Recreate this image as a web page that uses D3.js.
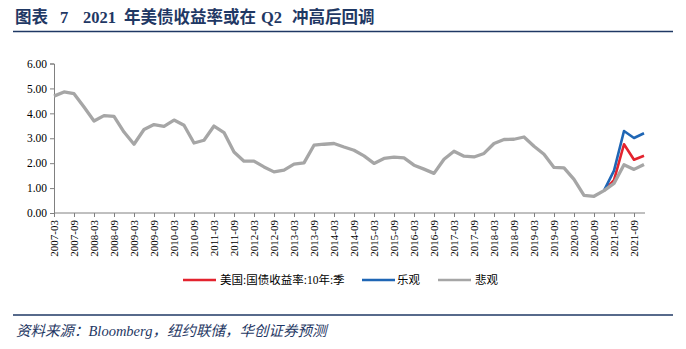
<!DOCTYPE html>
<html>
<head>
<meta charset="utf-8">
<script src="https://cdn.jsdelivr.net/npm/d3@7/dist/d3.min.js"></script>
<style>
  html, body { margin: 0; padding: 0; background: #fff; }
  svg { display: block; }
</style>
</head>
<body>
<svg id="chart" width="686" height="349"></svg>
<script>
// Quarter-end categories, 2007Q1 – 2021Q4
const quarters = [
  "2007-03","2007-06","2007-09","2007-12","2008-03","2008-06","2008-09","2008-12",
  "2009-03","2009-06","2009-09","2009-12","2010-03","2010-06","2010-09","2010-12",
  "2011-03","2011-06","2011-09","2011-12","2012-03","2012-06","2012-09","2012-12",
  "2013-03","2013-06","2013-09","2013-12","2014-03","2014-06","2014-09","2014-12",
  "2015-03","2015-06","2015-09","2015-12","2016-03","2016-06","2016-09","2016-12",
  "2017-03","2017-06","2017-09","2017-12","2018-03","2018-06","2018-09","2018-12",
  "2019-03","2019-06","2019-09","2019-12","2020-03","2020-06","2020-09","2020-12",
  "2021-03","2021-06","2021-09","2021-12"
];

// 悲观 scenario (includes the observed history up to 2020-12)
const pessimistic = [
  4.69, 4.86, 4.79, 4.25, 3.69, 3.91, 3.88, 3.25,
  2.76, 3.35, 3.55, 3.48, 3.73, 3.52, 2.81, 2.92,
  3.49, 3.23, 2.45, 2.08, 2.08, 1.85, 1.65, 1.72,
  1.96, 2.01, 2.72, 2.76, 2.79, 2.65, 2.52, 2.29,
  1.99, 2.19, 2.24, 2.21, 1.92, 1.76, 1.59, 2.16,
  2.48, 2.28, 2.25, 2.39, 2.79, 2.95, 2.96, 3.05,
  2.68, 2.36, 1.83, 1.81, 1.35, 0.71, 0.67, 0.90,
  1.19, 1.94, 1.75, 1.95
];

// Base case (美国:国债收益率:10年:季) and 乐观 scenario, 2020-12 onward
const baseStart = "2020-12";
const baseCase   = [0.90, 1.32, 2.76, 2.14, 2.30];
const optimistic = [0.90, 1.70, 3.29, 3.01, 3.20];

const yTicks = [0, 1, 2, 3, 4, 5, 6];
const xTickLabels = quarters.filter((d, i) => i % 2 === 0);

const seriesNames = ["美国:国债收益率:10年:季", "乐观", "悲观"];
const seriesColors = ["#E3232E", "#1F66B5", "#A6A6A6"];

const navy = "#1F3864";
const serif = "'Liberation Serif', 'Times New Roman', 'Noto Sans CJK SC', serif";

const svg = d3.select("#chart");

// Heading, set in separately spaced runs
const titleRuns = [
  { x: 15,  t: "图表" },
  { x: 60,  t: "7" },
  { x: 83,  t: "2021" },
  { x: 124, t: "年美债收益率或在" },
  { x: 261, t: "Q2" },
  { x: 292, t: "冲高后回调" }
];
const title = svg.append("text")
  .attr("y", 23)
  .attr("fill", navy)
  .attr("font-family", serif)
  .attr("font-weight", "bold")
  .attr("font-size", 16.5);
titleRuns.forEach(r => title.append("tspan").attr("x", r.x).text(r.t));

svg.append("line")
  .attr("x1", 13).attr("x2", 673).attr("y1", 31.5).attr("y2", 31.5)
  .attr("stroke", navy).attr("stroke-width", 1.5);

// Plot area
const x = d3.scalePoint().domain(quarters).range([54, 644]);
const y = d3.scaleLinear().domain([0, 6]).range([213, 63.5]);

const axisColor = "#808080";

const yAxis = svg.append("g")
  .attr("transform", "translate(54,0)")
  .call(d3.axisLeft(y).tickValues(yTicks).tickFormat(d3.format(".2f")).tickSize(4).tickPadding(3));
yAxis.select(".domain").attr("stroke", axisColor);
yAxis.selectAll(".tick line").attr("stroke", axisColor);
yAxis.selectAll("text")
  .attr("font-family", serif).attr("font-size", 11.5).attr("fill", "#000");

const xAxis = svg.append("g")
  .attr("transform", "translate(0,213)")
  .call(d3.axisBottom(x).tickValues(xTickLabels).tickSize(4).tickSizeOuter(0));
xAxis.select(".domain").attr("stroke", axisColor).attr("d", "M54,0H645");
xAxis.selectAll(".tick line").attr("stroke", axisColor);
xAxis.selectAll("text")
  .attr("font-family", serif).attr("font-size", 11).attr("fill", "#000")
  .attr("transform", "rotate(-90)")
  .attr("text-anchor", "end")
  .attr("x", -7).attr("y", 0).attr("dy", "0.35em");

const line = d3.line()
  .defined(d => d.v != null)
  .x(d => x(d.q))
  .y(d => y(d.v));

const startIdx = quarters.indexOf(baseStart);
const tail = arr => arr.map((v, k) => ({ q: quarters[startIdx + k], v }));

const seriesData = [
  tail(baseCase),
  tail(optimistic),
  pessimistic.map((v, i) => ({ q: quarters[i], v }))
];
const widths = [2.6, 2.6, 3.3];

svg.append("g").selectAll("path")
  .data(seriesData)
  .join("path")
  .attr("d", line)
  .attr("fill", "none")
  .attr("stroke", (d, i) => seriesColors[i])
  .attr("stroke-width", (d, i) => widths[i])
  .attr("stroke-linejoin", "round");

// Legend
const legendItems = [
  { x: 183, textX: 220 },
  { x: 362, textX: 397 },
  { x: 438, textX: 475 }
];
const legend = svg.append("g");
legendItems.forEach((it, i) => {
  legend.append("line")
    .attr("x1", it.x).attr("x2", it.x + 33).attr("y1", 280).attr("y2", 280)
    .attr("stroke", seriesColors[i]).attr("stroke-width", 2.6);
  legend.append("text")
    .attr("x", it.textX).attr("y", 280).attr("dy", "0.35em")
    .attr("font-family", serif).attr("font-size", 11.5).attr("fill", "#000")
    .text(seriesNames[i]);
});

// Source note
svg.append("line")
  .attr("x1", 13).attr("x2", 673).attr("y1", 315).attr("y2", 315)
  .attr("stroke", navy).attr("stroke-width", 1.5);

svg.append("text")
  .attr("x", 16).attr("y", 336)
  .attr("fill", navy)
  .attr("font-family", serif)
  .attr("font-style", "italic")
  .attr("font-size", 14.5)
  .text("资料来源：Bloomberg，纽约联储，华创证券预测");
</script>
</body>
</html>
